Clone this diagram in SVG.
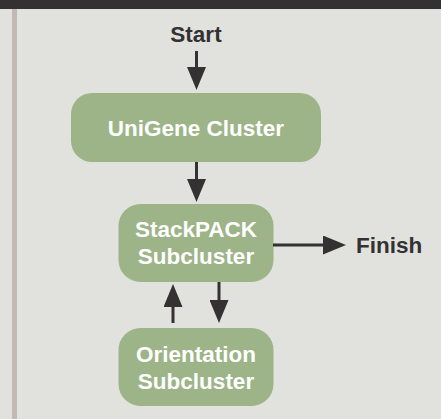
<svg xmlns="http://www.w3.org/2000/svg" width="441" height="419" viewBox="0 0 441 419">
<defs>
<style>
.bg{fill:#e1e2dd}
.box{fill:#9cb487}
.lbl{font-family:"Liberation Sans",Arial,sans-serif;font-weight:bold;font-size:22.5px;fill:#ffffff;text-anchor:middle}
.ext{font-family:"Liberation Sans",Arial,sans-serif;font-weight:bold;font-size:22.5px;fill:#333132}
.con{stroke:#333132;stroke-width:3;fill:none}
</style>
<marker id="ah" markerUnits="userSpaceOnUse" viewBox="0 0 23 19" refX="11" refY="9.5" markerWidth="23" markerHeight="19" orient="auto">
<polygon points="0,0 23,9.5 0,19" fill="#333132"/>
</marker>
</defs>
<rect class="bg" x="0" y="0" width="441" height="419"/>
<rect x="0" y="0" width="441" height="9" fill="#343132"/>
<rect x="12" y="9" width="5" height="410" fill="#c2b9b3"/>
<g id="start"><text class="ext" x="196" y="41.7" text-anchor="middle">Start</text></g>
<g id="unigene">
<rect class="box" x="71" y="93" width="250" height="69" rx="21"/>
<text class="lbl" x="196" y="135.7">UniGene Cluster</text>
</g>
<g id="stackpack">
<rect class="box" x="118.5" y="204" width="155" height="78" rx="22"/>
<text class="lbl" x="196" y="236.7">StackPACK</text>
<text class="lbl" x="196" y="264">Subcluster</text>
</g>
<g id="orientation">
<rect class="box" x="118.5" y="328" width="155" height="78" rx="22"/>
<text class="lbl" x="196" y="361.7">Orientation</text>
<text class="lbl" x="196" y="389.3">Subcluster</text>
</g>
<g id="finish"><text class="ext" x="356" y="253">Finish</text></g>
<g id="connectors">
<line class="con" x1="196.5" y1="51" x2="196.5" y2="78" marker-end="url(#ah)"/>
<line class="con" x1="196.5" y1="162" x2="196.5" y2="190" marker-end="url(#ah)"/>
<line class="con" x1="273" y1="245" x2="334" y2="245" marker-end="url(#ah)"/>
<line class="con" x1="173" y1="323" x2="173" y2="296" marker-end="url(#ah)"/>
<line class="con" x1="219" y1="282" x2="219" y2="311" marker-end="url(#ah)"/>
</g>
</svg>
